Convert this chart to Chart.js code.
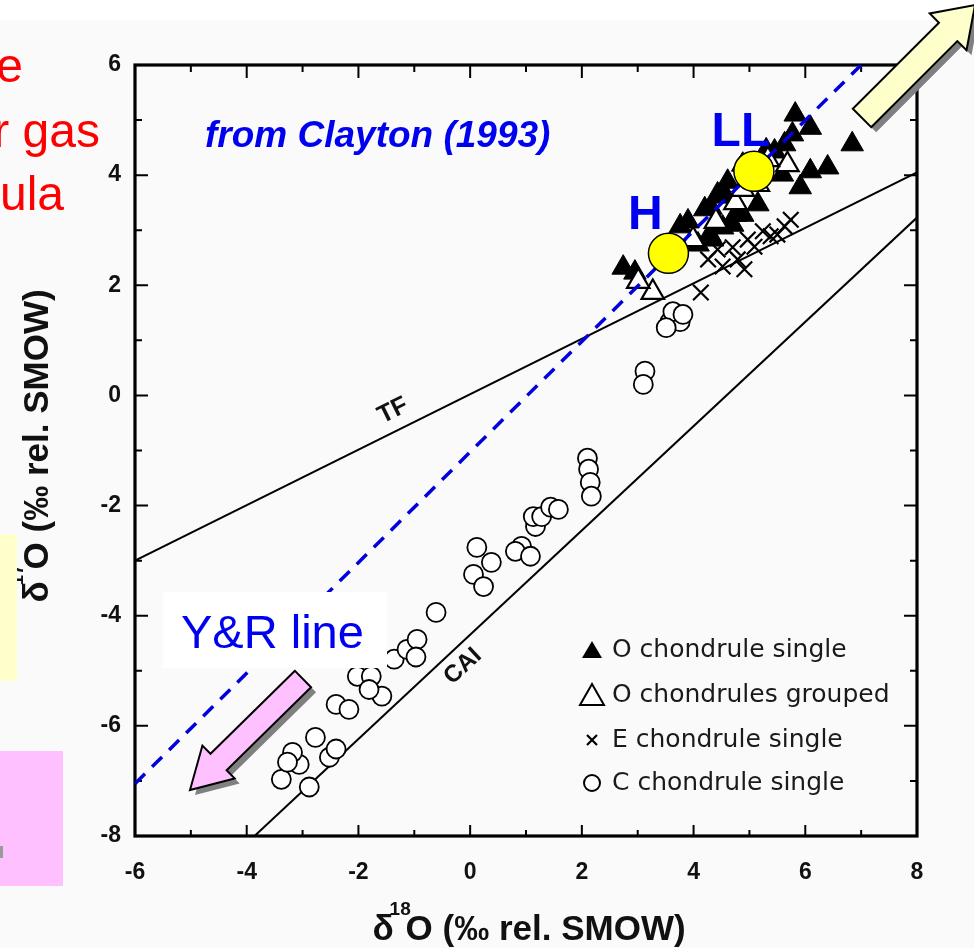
<!DOCTYPE html>
<html>
<head>
<meta charset="utf-8">
<script src="https://cdn.jsdelivr.net/npm/chart.js@4.4.1/dist/chart.umd.min.js"></script>
<style>
  html, body { margin: 0; padding: 0; background: #fff; }
  canvas { display: block; }
</style>
</head>
<body>
<canvas id="chart" width="974" height="948"></canvas>
<script>
// Oxygen three-isotope plot of chondrules (d18O vs d17O, per mil rel. SMOW)
const xTicks = [-6, -4, -2, 0, 2, 4, 6, 8];
const yTicks = [-8, -6, -4, -2, 0, 2, 4, 6];

// O chondrule single (filled triangles)
const oSingleX = [5.82, 6.09, 6.84, 6.40, 6.09, 5.91, 5.63, 5.45, 4.61, 4.43, 4.31, 2.74, 2.95, 3.76, 3.90, 4.20, 4.58, 5.59, 4.88, 5.77,
  4.08, 4.29, 4.52, 4.75, 5.30, 4.34, 4.88, 5.15, 4.70];
const oSingleY = [5.10, 4.86, 4.56, 4.14, 4.07, 3.78, 4.56, 4.43, 3.88, 3.65, 3.41, 2.32, 2.23, 3.07, 3.16, 3.38, 3.61, 4.01, 4.19, 4.74,
  2.74, 2.92, 3.05, 3.28, 4.45, 2.83, 3.28, 3.47, 3.10];

// O chondrules grouped (open triangles)
const oGroupX = [3.27, 3.01, 3.60, 3.99, 4.40, 4.75, 5.15, 5.68, 5.33, 4.88];
const oGroupY = [1.87, 2.07, 2.47, 2.83, 3.16, 3.50, 3.83, 4.19, 4.28, 3.74];

// E chondrule single (crosses)
const eSingleX = [4.13, 4.52, 4.91, 4.79, 5.09, 5.38, 5.63, 5.74, 4.70, 4.97, 5.24, 4.43, 4.26, 5.50];
const eSingleY = [1.87, 2.34, 2.29, 2.47, 2.70, 2.89, 3.07, 3.19, 2.69, 2.83, 2.98, 2.65, 2.47, 2.92];

// C chondrule single (open circles)
const cSingleX = [-3.38, -3.06, -2.88, -3.18, -2.77, -2.52, -2.40, -3.27, -2.40, -2.17, -2.02, -1.77, -1.58, -1.81,
  -1.36, -1.13, -0.95, -0.97, -0.61, 0.12, 0.38, 0.06, 0.24, 0.92, 0.81, 1.08, 1.17, 1.13, 1.28, 1.44, 1.58,
  2.10, 2.12, 2.15, 2.17, 3.13, 3.10, 3.58, 3.76, 3.63, 3.81, 3.51];
const cSingleY = [-6.97, -6.70, -7.11, -6.48, -6.21, -6.57, -6.42, -6.66, -5.61, -5.70, -5.10, -5.10, -5.46, -5.34,
  -4.79, -4.61, -4.43, -4.75, -3.94, -2.76, -3.03, -3.25, -3.47, -2.74, -2.83, -2.92, -2.38, -2.20, -2.20, -2.03, -2.07,
  -1.14, -1.34, -1.58, -1.83, 0.44, 0.20, 1.34, 1.34, 1.52, 1.47, 1.23];

// Bulk ordinary chondrite groups
const groupNames = ['H', 'LL'];
const groupX = [3.55, 5.08];
const groupY = [2.58, 4.07];

// Reference lines (end points)
const tfX = [-6, 8], tfY = [-3.0, 4.05];
const caiX = [-3.86, 8], caiY = [-8, 3.23];
const yrX = [-6, 7], yrY = [-7.05, 6];

const legendLabels = ['O chondrule single', 'O chondrules grouped', 'E chondrule single', 'C chondrule single'];

function pts(xs, ys) {
    return xs.map((x, i) => ({ x: x, y: ys[i] }));
}

const BLUE = '#0000f0';
const SANS = '"Liberation Sans", Arial, sans-serif';

function drawArrow(ctx, tail, tip, shaftW, headW, headLen, fill) {
    const dx = tip[0] - tail[0], dy = tip[1] - tail[1];
    const len = Math.hypot(dx, dy);
    const ux = dx / len, uy = dy / len, nx = -uy, ny = ux;
    const bx = tip[0] - ux * headLen, by = tip[1] - uy * headLen;
    const p = [
        [tail[0] + nx * shaftW / 2, tail[1] + ny * shaftW / 2],
        [bx + nx * shaftW / 2, by + ny * shaftW / 2],
        [bx + nx * headW / 2, by + ny * headW / 2],
        tip,
        [bx - nx * headW / 2, by - ny * headW / 2],
        [bx - nx * shaftW / 2, by - ny * shaftW / 2],
        [tail[0] - nx * shaftW / 2, tail[1] - ny * shaftW / 2]
    ];
    const path = (ox, oy) => {
        ctx.beginPath();
        p.forEach((q, i) => i ? ctx.lineTo(q[0] + ox, q[1] + oy) : ctx.moveTo(q[0] + ox, q[1] + oy));
        ctx.closePath();
    };
    ctx.save();
    path(5, 5);
    ctx.fillStyle = '#808080';
    ctx.fill();
    path(0, 0);
    ctx.fillStyle = fill;
    ctx.fill();
    ctx.lineWidth = 2;
    ctx.strokeStyle = '#000';
    ctx.lineJoin = 'miter';
    ctx.stroke();
    ctx.restore();
}

// Text rotated to follow a line given in data units
function lineLabel(ctx, chart, text, lx, ly, x0, y0, x1, y1, font) {
    const xs = chart.scales.x, ys = chart.scales.y;
    const ang = Math.atan2(ys.getPixelForValue(y1) - ys.getPixelForValue(y0),
                           xs.getPixelForValue(x1) - xs.getPixelForValue(x0));
    ctx.save();
    ctx.translate(xs.getPixelForValue(lx), ys.getPixelForValue(ly));
    ctx.rotate(ang);
    ctx.font = font;
    ctx.fillStyle = '#111';
    ctx.textAlign = 'center';
    ctx.textBaseline = 'middle';
    ctx.fillText(text, 0, 0);
    ctx.restore();
}

// δ with a superscript mass number, then the rest of the title
function isoTitle(ctx, mass, x, y) {
    ctx.font = 'bold 35px ' + SANS;
    ctx.textBaseline = 'alphabetic';
    ctx.textAlign = 'left';
    ctx.fillStyle = '#111';
    const wd = ctx.measureText('δ').width;
    const rest = 'O (‰ rel. SMOW)';
    const wr = ctx.measureText(rest).width;
    const gap = 12;
    const total = wd + gap + wr;
    const x0 = x - total / 2;
    ctx.fillText('δ', x0, y);
    ctx.fillText(rest, x0 + wd + gap, y);
    ctx.font = 'bold 19px ' + SANS;
    ctx.fillText(mass, x0 + wd - 4, y - 25);
}

const background = {
    id: 'background',
    beforeDraw(chart) {
        const ctx = chart.ctx;
        ctx.save();
        ctx.fillStyle = '#ffffff';
        ctx.fillRect(0, 0, chart.width, chart.height);
        ctx.fillStyle = '#fafafa';
        ctx.fillRect(0, 20, chart.width, chart.height - 20);
        ctx.restore();
    }
};

// Frame on four sides with inward ticks
const frame = {
    id: 'frame',
    beforeDatasetsDraw(chart) {
        const { ctx, chartArea: a } = chart;
        const xs = chart.scales.x, ys = chart.scales.y;
        ctx.save();
        ctx.strokeStyle = '#000';
        ctx.lineWidth = 2;
        ctx.beginPath();
        for (let v = xs.min; v <= xs.max; v++) {
            const px = xs.getPixelForValue(v);
            const major = xTicks.includes(v);
            ctx.moveTo(px, a.bottom);
            ctx.lineTo(px, a.bottom - (major ? 11 : 6));
            ctx.moveTo(px, a.top);
            ctx.lineTo(px, a.top + (major ? 13 : 7));
        }
        for (let v = ys.min; v <= ys.max; v++) {
            const py = ys.getPixelForValue(v);
            const major = yTicks.includes(v);
            ctx.moveTo(a.left, py);
            ctx.lineTo(a.left + (major ? 13 : 7), py);
            ctx.moveTo(a.right, py);
            ctx.lineTo(a.right - (major ? 13 : 7), py);
        }
        ctx.stroke();
        ctx.lineWidth = 3.2;
        ctx.strokeRect(a.left, a.top, a.right - a.left, a.bottom - a.top);
        ctx.restore();
    }
};

const annotations = {
    id: 'annotations',
    afterDraw(chart) {
        const ctx = chart.ctx;
        const xs = chart.scales.x, ys = chart.scales.y;
        const a = chart.chartArea;

        // line names
        lineLabel(ctx, chart, 'TF', -1.38, -0.28, tfX[0], tfY[0], tfX[1], tfY[1], 'bold 25px ' + SANS);
        lineLabel(ctx, chart, 'CAI', -0.13, -4.92, caiX[0], caiY[0], caiX[1], caiY[1], 'bold 24px ' + SANS);

        // group names over the yellow markers
        ctx.save();
        ctx.fillStyle = BLUE;
        ctx.font = 'bold 48px ' + SANS;
        ctx.textAlign = 'center';
        ctx.textBaseline = 'middle';
        const offs = [[-23, -38], [-13, -39]];
        groupNames.forEach((n, i) => {
            ctx.fillText(n, xs.getPixelForValue(groupX[i]) + offs[i][0], ys.getPixelForValue(groupY[i]) + offs[i][1]);
        });
        ctx.font = 'italic bold 37px ' + SANS;
        ctx.textAlign = 'left';
        ctx.fillText('from Clayton (1993)', 205, 137);
        ctx.restore();

        // legend
        ctx.save();
        const lx = 592, rows = [650, 695, 740, 783];
        ctx.fillStyle = '#000'; ctx.strokeStyle = '#000';
        ctx.lineWidth = 1;
        ctx.beginPath();
        ctx.moveTo(lx, rows[0] - 9); ctx.lineTo(lx + 10, rows[0] + 8); ctx.lineTo(lx - 10, rows[0] + 8); ctx.closePath();
        ctx.fill();
        ctx.fillStyle = '#fff';
        ctx.lineWidth = 2;
        ctx.beginPath();
        ctx.moveTo(lx, rows[1] - 11); ctx.lineTo(lx + 12, rows[1] + 10); ctx.lineTo(lx - 12, rows[1] + 10); ctx.closePath();
        ctx.fill(); ctx.stroke();
        ctx.lineWidth = 2.2;
        ctx.beginPath();
        ctx.moveTo(lx - 5, rows[2] - 5); ctx.lineTo(lx + 5, rows[2] + 5);
        ctx.moveTo(lx + 5, rows[2] - 5); ctx.lineTo(lx - 5, rows[2] + 5);
        ctx.stroke();
        ctx.lineWidth = 2;
        ctx.beginPath();
        ctx.arc(lx, rows[3], 8, 0, Math.PI * 2);
        ctx.fill(); ctx.stroke();
        ctx.fillStyle = '#1a1a1a';
        ctx.font = '25px "DejaVu Sans", sans-serif';
        ctx.textBaseline = 'middle';
        ctx.textAlign = 'left';
        legendLabels.forEach((t, i) => ctx.fillText(t, 612, rows[i]));
        ctx.restore();

        // axis titles
        ctx.save();
        isoTitle(ctx, '18', (a.left + a.right) / 2 + 3, 940);
        ctx.restore();
        ctx.save();
        ctx.translate(48, 446);
        ctx.rotate(-Math.PI / 2);
        isoTitle(ctx, '17', 0, 0);
        ctx.restore();

        // slide pieces around the figure
        ctx.save();
        ctx.fillStyle = '#ff0000';
        ctx.font = '48px ' + SANS;
        ctx.textAlign = 'right';
        ctx.textBaseline = 'alphabetic';
        ctx.fillText('e', 23, 82);
        ctx.fillText('r gas', 100, 147);
        ctx.fillText('ula', 64, 210);
        ctx.fillStyle = '#ffffcc';
        ctx.fillRect(0, 534, 17, 147);
        ctx.fillStyle = '#ffc0ff';
        ctx.fillRect(0, 751, 63, 135);
        ctx.fillStyle = '#9a9a9a';
        ctx.fillRect(0, 846, 3, 12);

        // Y&R label box
        ctx.fillStyle = '#ffffff';
        ctx.fillRect(163, 592, 224, 76);
        ctx.fillStyle = BLUE;
        ctx.font = '47px ' + SANS;
        ctx.textAlign = 'left';
        ctx.fillText('Y&R line', 181, 648);
        ctx.restore();

        drawArrow(ctx, [303, 679], [190, 790], 23, 46, 40, '#ffc0ff');
        drawArrow(ctx, [862, 118], [975, 5], 26, 52, 38, '#ffffcc');
    }
};

new Chart(document.getElementById('chart'), {
    type: 'scatter',
    data: {
        datasets: [
            {
                label: 'groups',
                data: pts(groupX, groupY),
                pointRadius: 20,
                pointBackgroundColor: '#ffff00',
                pointBorderColor: '#000',
                pointBorderWidth: 1.5,
                order: 0
            },
            {
                label: 'Y&R line',
                data: pts(yrX, yrY),
                showLine: true,
                pointRadius: 0,
                borderColor: '#0000dd',
                borderWidth: 3.5,
                borderDash: [14, 10],
                order: 1
            },
            {
                label: 'O chondrules grouped',
                data: pts(oGroupX, oGroupY),
                pointStyle: 'triangle',
                pointRadius: 13,
                pointBackgroundColor: '#fff',
                pointBorderColor: '#000',
                pointBorderWidth: 2.2,
                order: 2
            },
            {
                label: 'O chondrule single',
                data: pts(oSingleX, oSingleY),
                pointStyle: 'triangle',
                pointRadius: 13,
                pointBackgroundColor: '#000',
                pointBorderColor: '#000',
                pointBorderWidth: 1,
                order: 3
            },
            {
                label: 'E chondrule single',
                data: pts(eSingleX, eSingleY),
                pointStyle: 'crossRot',
                pointRadius: 11,
                pointBorderColor: '#000',
                pointBorderWidth: 2.2,
                order: 4
            },
            {
                label: 'C chondrule single',
                data: pts(cSingleX, cSingleY),
                pointStyle: 'circle',
                pointRadius: 9.5,
                pointBackgroundColor: '#fff',
                pointBorderColor: '#000',
                pointBorderWidth: 1.8,
                order: 5
            },
            {
                label: 'TF',
                data: pts(tfX, tfY),
                showLine: true,
                pointRadius: 0,
                borderColor: '#000',
                borderWidth: 2,
                order: 6
            },
            {
                label: 'CAI',
                data: pts(caiX, caiY),
                showLine: true,
                pointRadius: 0,
                borderColor: '#000',
                borderWidth: 2,
                order: 7
            }
        ]
    },
    options: {
        responsive: false,
        animation: false,
        events: [],
        layout: { padding: { top: 65, right: 57, bottom: 0, left: 0 } },
        plugins: {
            legend: { display: false },
            tooltip: { enabled: false }
        },
        scales: {
            x: {
                type: 'linear',
                min: -6,
                max: 8,
                afterBuildTicks: s => { s.ticks = xTicks.map(v => ({ value: v })); },
                afterFit: s => { s.height = 112; },
                grid: { display: false, drawTicks: false },
                border: { display: false },
                ticks: { padding: 23, color: '#111', font: { family: SANS, size: 23, weight: 'bold' } }
            },
            y: {
                type: 'linear',
                min: -8,
                max: 6,
                afterBuildTicks: s => { s.ticks = yTicks.map(v => ({ value: v })); },
                afterFit: s => { s.width = 135; },
                grid: { display: false, drawTicks: false },
                border: { display: false },
                ticks: { padding: 14, color: '#111', font: { family: SANS, size: 23, weight: 'bold' } }
            }
        }
    },
    plugins: [background, frame, annotations]
});
</script>
</body>
</html>
